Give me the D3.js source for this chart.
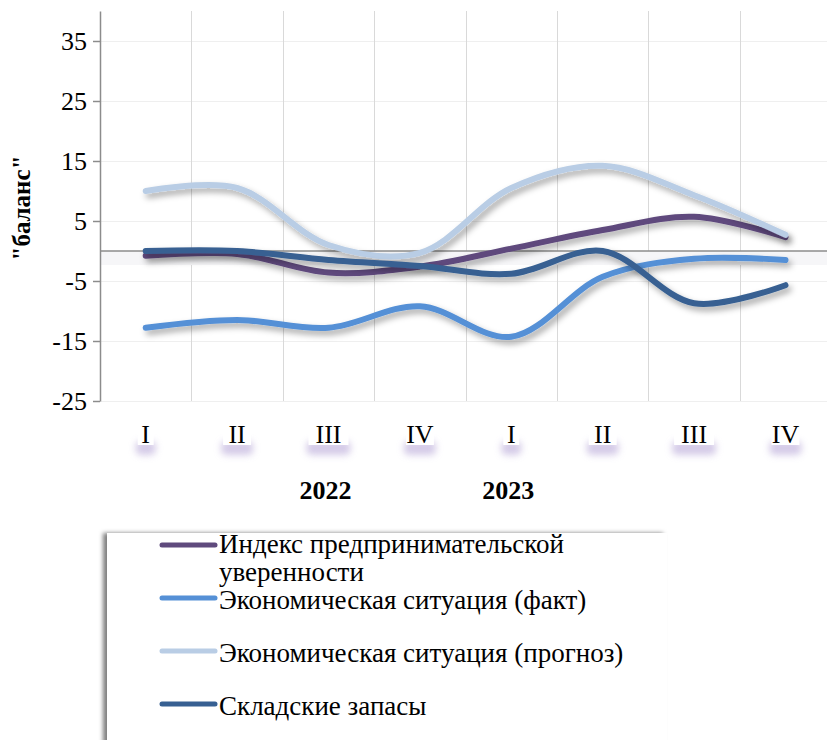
<!DOCTYPE html>
<html>
<head>
    <meta charset="utf-8">
    <title>Balance chart</title>
    <style>
        body {
            margin: 0;
            background: #fff;
        }

        svg, svg text {
            font-family: "Liberation Serif", "Times New Roman", Times, serif;
        }

        .grid-h line {
            stroke: #efefef;
            stroke-width: 1;
            shape-rendering: crispEdges;
        }

        .grid-v line {
            stroke: #d9d9d9;
            stroke-width: 1;
            shape-rendering: crispEdges;
        }

        .y-axis path, .y-axis line {
            stroke: #8c8c8c;
            stroke-width: 1.5;
        }

        .y-axis text {
            font-size: 26px;
            fill: #000;
        }

        .zero-line {
            stroke: #8c8c8c;
            stroke-width: 1.5;
        }

        .series {
            fill: none;
            stroke-width: 6;
            stroke-linecap: round;
        }

        .cat-label {
            font-size: 26px;
            text-anchor: middle;
        }

        .year-label {
            font-size: 26px;
            font-weight: bold;
            text-anchor: middle;
        }

        .legend text {
            font-size: 27px;
        }
    </style>
    <script src="https://d3js.org/d3.v7.min.js"></script>
</head>
<body>

<script type="text/javascript">
    var quarters = ["I", "II", "III", "IV", "I", "II", "III", "IV"];
    var years = [{label: "2022", at: 2}, {label: "2023", at: 4}];
    var yTicks = [-25, -15, -5, 5, 15, 25, 35];

    var seriesNames = [
        ["Индекс предпринимательской", "уверенности"],
        ["Экономическая ситуация (факт)"],
        ["Экономическая ситуация (прогноз)"],
        ["Складские запасы"]
    ];
    var seriesColors = ["#5f4a7d", "#5590d6", "#b9cde5", "#376092"];

    var confidence = [-0.8, -0.5, -3.6, -2.6, 0.4, 3.5, 5.7, 2.3];
    var econFact = [-12.8, -11.5, -12.8, -9.2, -14.3, -4.3, -1.3, -1.5];
    var econForecast = [10, 10.5, 1, -0.3, 10.5, 14.2, 9.3, 2.7];
    var stocks = [0, 0, -1.5, -2.5, -3.8, 0, -8.7, -5.7];

    var seriesValues = [confidence, econFact, econForecast, stocks];

    var width = 827, height = 740,
        serif = "'Liberation Serif', 'Times New Roman', serif";

    var svg = d3.select("body").append("svg")
            .attr("width", width)
            .attr("height", height)
            .attr("font-family", serif);

    var defs = svg.append("defs");

    var shadow = defs.append("filter")
            .attr("id", "line-shadow")
            .attr("x", "-10%").attr("y", "-50%")
            .attr("width", "120%").attr("height", "200%");
    shadow.append("feDropShadow")
            .attr("dx", 3).attr("dy", 4)
            .attr("stdDeviation", 3)
            .attr("flood-color", "#000")
            .attr("flood-opacity", 0.35);

    var glow = defs.append("filter").attr("id", "glow")
            .attr("x", "-50%").attr("y", "-100%")
            .attr("width", "200%").attr("height", "300%");
    glow.append("feGaussianBlur").attr("stdDeviation", 3.5);

    var boxShadow = defs.append("filter").attr("id", "box-shadow")
            .attr("x", "-5%").attr("y", "-5%")
            .attr("width", "110%").attr("height", "120%");
    boxShadow.append("feDropShadow")
            .attr("dx", -4).attr("dy", 0)
            .attr("stdDeviation", 2)
            .attr("flood-color", "#000")
            .attr("flood-opacity", 0.5);

    var x = d3.scaleBand()
            .domain(d3.range(quarters.length))
            .range([100, 100 + 8 * 91.4]);

    var y = d3.scaleLinear()
            .domain([-25, 40])
            .range([401, 11]);

    function cx(i) {
        return x(i) + x.bandwidth() / 2;
    }

    // horizontal grid
    svg.append("g").attr("class", "grid-h")
            .selectAll("line").data(yTicks).enter().append("line")
            .attr("x1", 100).attr("x2", width)
            .attr("y1", function (d) { return y(d); })
            .attr("y2", function (d) { return y(d); });

    // vertical grid between categories
    svg.append("g").attr("class", "grid-v")
            .selectAll("line").data(d3.range(1, quarters.length)).enter().append("line")
            .attr("x1", function (d) { return Math.round(x(d)); })
            .attr("x2", function (d) { return Math.round(x(d)); })
            .attr("y1", y(40)).attr("y2", y(-25));

    // faint band under the zero line
    svg.append("rect")
            .attr("x", 100).attr("y", y(0))
            .attr("width", width - 100).attr("height", 14)
            .attr("fill", "#f6f6f8");

    svg.append("line").attr("class", "zero-line")
            .attr("x1", 100).attr("x2", width)
            .attr("y1", y(0)).attr("y2", y(0));

    var yAxis = d3.axisLeft(y)
            .tickValues(yTicks)
            .tickSize(7)
            .tickSizeOuter(0)
            .tickPadding(6)
            .tickFormat(function (d) { return String(d); });

    svg.append("g").attr("class", "y-axis")
            .attr("transform", "translate(100,0)")
            .call(yAxis)
            .attr("font-family", serif)
            .attr("font-size", 26);

    svg.append("text")
            .attr("transform", "translate(30," + 208 + ") rotate(-90)")
            .attr("text-anchor", "middle")
            .attr("font-size", 25)
            .attr("font-weight", "bold")
            .text("\"баланс\"");

    // series lines
    var line = d3.line()
            .x(function (d, i) { return cx(i); })
            .y(function (d) { return y(d); })
            .curve(d3.curveCatmullRom.alpha(0.5));

    svg.append("g").selectAll("path").data(seriesValues).enter().append("path")
            .attr("class", "series")
            .attr("stroke", function (d, i) { return seriesColors[i]; })
            .attr("filter", "url(#line-shadow)")
            .attr("d", line);

    // category labels: purple glow underneath, white plate behind text
    var cats = svg.append("g").selectAll("g").data(quarters).enter().append("g")
            .attr("transform", function (d, i) { return "translate(" + cx(i) + ",0)"; });

    cats.append("rect")
            .attr("x", function (d) { return -(4 + d.length * 6); })
            .attr("y", 441)
            .attr("width", function (d) { return 8 + d.length * 12; })
            .attr("height", 14)
            .attr("rx", 5)
            .attr("fill", "#c6b9e0")
            .attr("opacity", 0.75)
            .attr("filter", "url(#glow)");

    cats.append("rect")
            .attr("x", function (d) { return -(2 + d.length * 6); })
            .attr("y", 423)
            .attr("width", function (d) { return 4 + d.length * 12; })
            .attr("height", 22)
            .attr("fill", "#fff");

    cats.append("text")
            .attr("class", "cat-label")
            .attr("y", 443)
            .text(function (d) { return d; });

    svg.append("g").selectAll("text").data(years).enter().append("text")
            .attr("class", "year-label")
            .attr("x", function (d) { return cx(d.at) - 3; })
            .attr("y", 499)
            .text(function (d) { return d.label; });

    // legend
    var legend = svg.append("g").attr("class", "legend");

    legend.append("rect")
            .attr("x", 107).attr("y", 533)
            .attr("width", 560).attr("height", 230)
            .attr("fill", "#fff")
            .attr("filter", "url(#box-shadow)");

    var legendY = [545, 598, 651, 704];

    var items = legend.selectAll("g.item").data(seriesNames).enter().append("g")
            .attr("class", "item")
            .attr("transform", function (d, i) { return "translate(0," + legendY[i] + ")"; });

    items.append("line")
            .attr("x1", 162).attr("x2", 215)
            .attr("y1", 0).attr("y2", 0)
            .attr("stroke", function (d, i) { return seriesColors[i]; })
            .attr("stroke-width", 5)
            .attr("stroke-linecap", "round");

    // wrapped first entry is nudged up a little so it does not touch the next one
    items.append("text")
            .attr("x", 219)
            .attr("y", function (d, i) { return i === 0 ? 8 : 11; })
            .selectAll("tspan").data(function (d) { return d; }).enter().append("tspan")
            .attr("x", 219)
            .attr("dy", function (d, i) { return i === 0 ? 0 : 28; })
            .text(function (d) { return d; });
</script>

</body>
</html>
